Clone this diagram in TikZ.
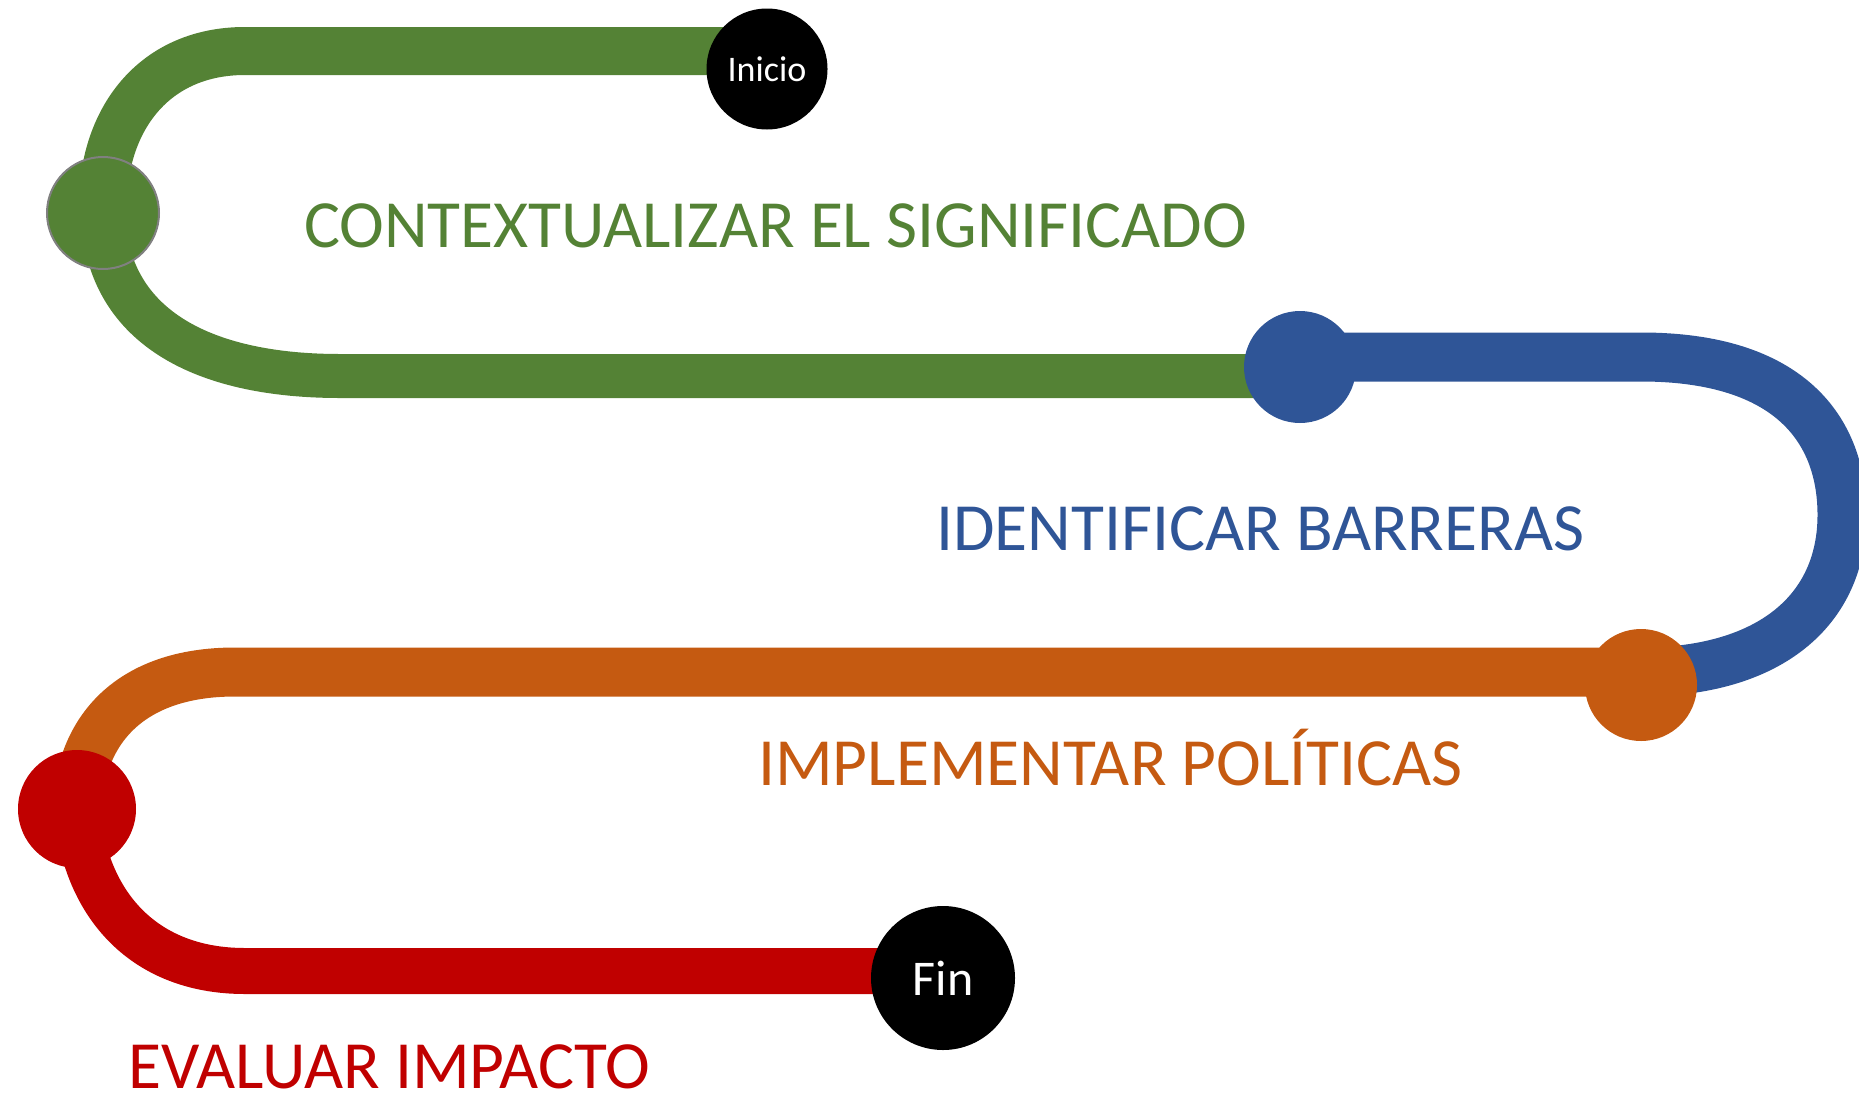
\documentclass[tikz,border=0pt]{standalone}
\usepackage{fontspec}
\setmainfont{Carlito}
\usetikzlibrary{backgrounds}
\definecolor{cgreen}{HTML}{548235}
\definecolor{cblue}{HTML}{2F5597}
\definecolor{corange}{HTML}{C55A11}
\definecolor{cred}{HTML}{C00000}
\begin{document}
\begin{tikzpicture}[x=1pt,y=-1pt,
  band/.style={line width=47pt, line cap=butt},
  dot/.style={circle, inner sep=0pt, minimum size=112pt},
  endpt/.style={circle, fill=black, text=white, inner sep=0pt},
  lbl/.style={anchor=base west, inner sep=0pt, font=\fontsize{67.5}{78}\selectfont}]
\useasboundingbox (0,0) rectangle (1859,1103);
\clip (0,0) rectangle (1859,1103);
\node[endpt, minimum size=121pt, font=\fontsize{36}{40}\selectfont] (inicio) at (767,69) {Inicio};
\node[dot, fill=cgreen, draw=black!50, line width=2pt] (g) at (103,213) {};
\node[dot, fill=cblue] (b) at (1300,367) {};
\node[dot, fill=corange] (o) at (1641,685) {};
\node[dot, fill=cred, minimum size=118pt] (r) at (77,809) {};
\node[endpt, minimum size=144pt, font=\fontsize{50}{56}\selectfont] (fin) at (943,978) {Fin};
\coordinate (g0) at (767,51);
\coordinate (g1) at (1300,376);
\coordinate (b0) at (1300,357);
\coordinate (b1) at (1641,672);
\coordinate (r1) at (943,971);
\begin{pgfonlayer}{background}
\draw[band, cgreen, line width=48pt] (g0) -- (245,51) .. controls (150,51) and (100,125) .. (g.center);
\draw[band, cgreen, line width=44pt] (g.center) .. controls (106,325) and (200,376) .. (340,376) -- (g1);
\draw[band, cblue, line width=49pt] (b0) -- (1641,357) .. controls (1790,357) and (1842,430) .. (1842,515) .. controls (1842,610) and (1770,672) .. (b1);
\draw[band, corange, line width=49pt] (o.center |- b1) -- (235,672) .. controls (130,672) and (80,730) .. (r.center);
\draw[band, cred, line width=46pt] (r.center) .. controls (84,900) and (140,971) .. (245,971) -- (r1);
\end{pgfonlayer}
\node[lbl, text=cgreen] (t1) at (304,247) {CONTEXTUALIZAR EL SIGNIFICADO};
\node[lbl, text=cblue] (t2) at (936,550) {IDENTIFICAR BARRERAS};
\node[lbl, text=corange] (t3) at (758,785) {IMPLEMENTAR POLÍTICAS};
\node[lbl, text=cred] (t4) at (128,1088) {EVALUAR IMPACTO};
\end{tikzpicture}
\end{document}
